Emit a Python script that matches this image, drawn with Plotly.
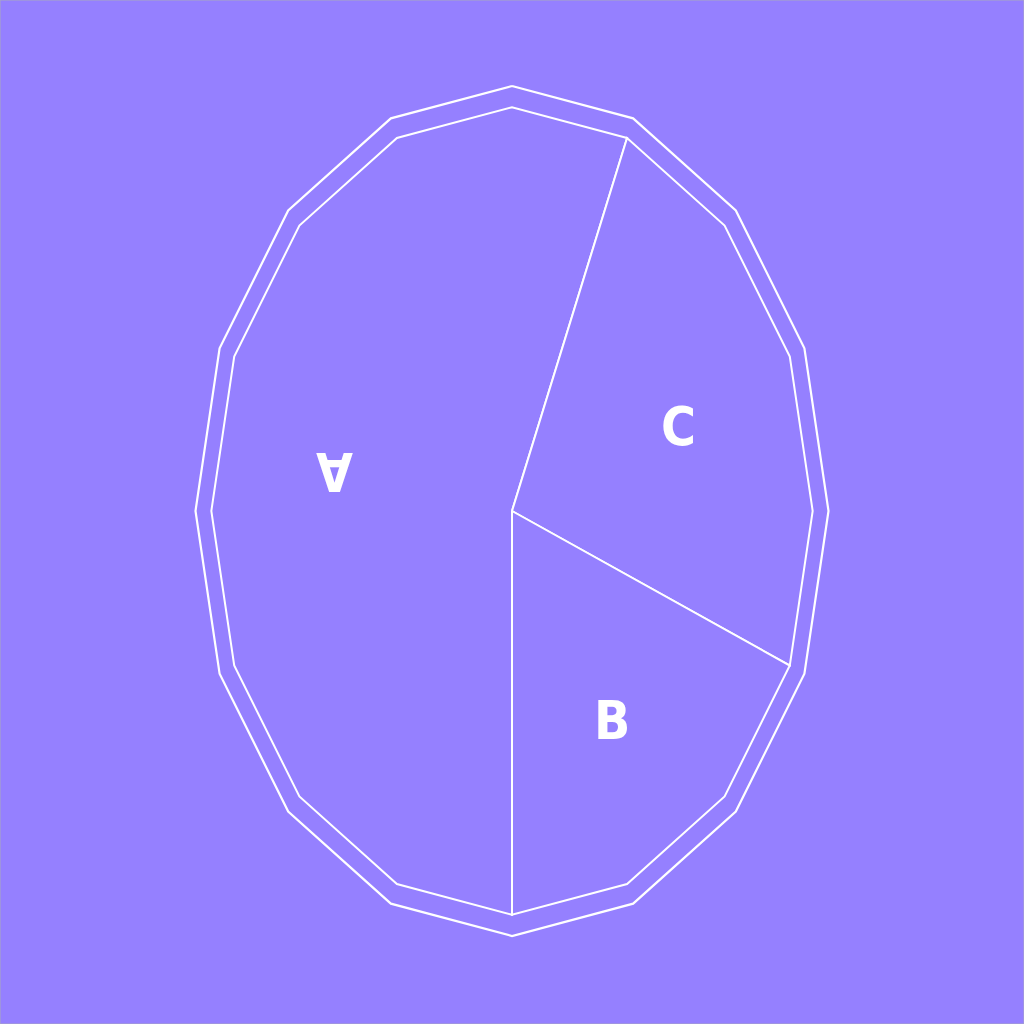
import math
import plotly.graph_objects as go

labels = ["A", "B", "C"]
values = [45, 15, 20]

BG = "#9580FF"
N_SIDES = 16
R_OUT = 1.0
R_IN = 0.95
START_DEG = -90.0  # slices start at the bottom and run clockwise, largest first


def poly_radius(theta_deg, R):
    step = 360.0 / N_SIDES
    rel = (90.0 - theta_deg) % step
    return R * math.cos(math.radians(step / 2)) / math.cos(math.radians(rel - step / 2))


def pt(theta_deg, R):
    r = poly_radius(theta_deg, R)
    return r * math.cos(math.radians(theta_deg)), r * math.sin(math.radians(theta_deg))


fig = go.Figure()

ox, oy = [], []
for k in range(N_SIDES + 1):
    a = 90.0 - k * 360.0 / N_SIDES
    ox.append(R_OUT * math.cos(math.radians(a)))
    oy.append(R_OUT * math.sin(math.radians(a)))
fig.add_trace(go.Scatter(x=ox, y=oy, mode="lines", line=dict(color="white", width=2.2),
                         hoverinfo="skip", showlegend=False))

order = sorted(range(len(values)), key=lambda i: -values[i])
total = float(sum(values))
step = 360.0 / N_SIDES
cur = START_DEG
annotations = []
for i in order:
    span = values[i] / total * 360.0
    a0, a1 = cur, cur - span
    xs, ys = [0.0], [0.0]
    angs = [a0]
    k0 = math.ceil((90.0 - a0) / step - 1e-9)
    a = 90.0 - k0 * step
    while a > a1 + 1e-9:
        if a < a0 - 1e-9:
            angs.append(a)
        k0 += 1
        a = 90.0 - k0 * step
    angs.append(a1)
    for ang in angs:
        px, py = pt(ang, R_IN)
        xs.append(px)
        ys.append(py)
    xs.append(0.0)
    ys.append(0.0)
    fig.add_trace(go.Scatter(x=xs, y=ys, mode="lines", fill="toself", fillcolor=BG,
                             line=dict(color="white", width=2), name=labels[i],
                             hoverinfo="name", showlegend=False))
    mid = (a0 + a1) / 2.0
    lr = 0.6 * R_IN
    lx = lr * math.cos(math.radians(mid))
    ly = lr * math.sin(math.radians(mid))
    rot = 180 if math.cos(math.radians(mid)) < -0.5 else 0
    annotations.append(dict(x=lx, y=ly, text=labels[i], showarrow=False, textangle=rot,
                            yshift=-8,
                            font=dict(family="DejaVu Sans Condensed, DejaVu Sans, sans-serif",
                                      size=53, color="white", weight="bold"),
                            xanchor="center", yanchor="middle"))
    cur = a1

fig.update_layout(
    width=1024, height=1024,
    margin=dict(l=0, r=0, t=0, b=0),
    paper_bgcolor=BG, plot_bgcolor=BG,
    xaxis=dict(range=[-512 / 316.5, 512 / 316.5], visible=False, fixedrange=True),
    yaxis=dict(range=[-513 / 425.0, 511 / 425.0], visible=False, fixedrange=True),
    annotations=annotations,
    shapes=[dict(type="rect", xref="paper", yref="paper", x0=0, y0=0, x1=1, y1=1,
                 line=dict(color="#A8A8C0", width=1))],
)

fig.write_html("out.html", config={"displayModeBar": False},
               post_script="document.body.style.margin='0';document.body.style.padding='0';")
